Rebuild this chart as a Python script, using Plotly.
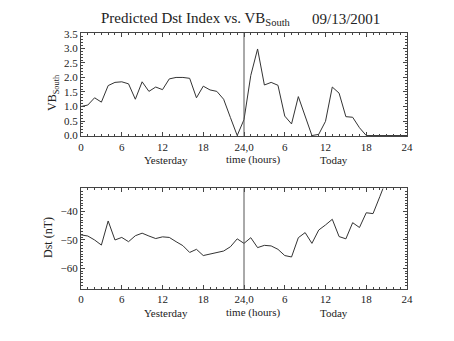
import plotly.graph_objects as go

hours = list(range(0, 49))
vb_south = [1.0, 1.05, 1.3, 1.15, 1.72, 1.83, 1.85, 1.78, 1.25, 1.85, 1.52, 1.67, 1.58, 1.95, 2.0, 2.0, 1.97,
            1.3, 1.7, 1.57, 1.52, 1.25, 0.62, 0.0, 0.55,
            2.07, 2.98, 1.74, 1.83, 1.73, 0.67, 0.4, 1.34, 0.7, 0.0, 0.04, 0.49, 1.67, 1.46, 0.65, 0.63, 0.27,
            0.0, 0.0, 0.0, 0.0, 0.0, 0.0, 0.0]
dst_hours = list(range(0, 46))
dst = [-48.2, -48.6, -50.0, -51.8, -43.3, -50.0, -49.1, -50.6, -48.5, -47.6, -48.6, -49.5, -48.9, -49.1,
       -50.6, -52.0, -54.4, -53.3, -55.5, -55.0, -54.5, -53.9, -52.4, -49.6, -51.2,
       -49.2, -52.7, -51.9, -52.1, -53.3, -55.5, -56.0, -49.2, -47.4, -51.2, -46.5, -44.7, -42.7, -48.8,
       -49.6, -43.9, -45.6, -40.4, -40.7, -34.7, -28.5]
tick_vals = [0, 6, 12, 18, 24, 30, 36, 42, 48]
tick_text = ["0", "6", "12", "18", "24,0", "6", "12", "18", "24"]
now_hour = 24

FONT = "Liberation Serif"
INK = "#222222"

fig = go.Figure()
fig.add_trace(go.Scatter(x=hours, y=vb_south, mode="lines", line=dict(color="#333333", width=1),
                         xaxis="x", yaxis="y", showlegend=False))
fig.add_trace(go.Scatter(x=dst_hours, y=dst, mode="lines", line=dict(color="#333333", width=1),
                         xaxis="x2", yaxis="y2", showlegend=False))

axis_common = dict(showline=True, linecolor="#444444", linewidth=1, mirror="ticks", ticks="inside",
                   tickcolor="#444444", showgrid=False, zeroline=False,
                   tickfont=dict(family=FONT, size=11, color=INK))
xcommon = dict(axis_common, range=[0, 48], tickvals=tick_vals, ticktext=tick_text, ticklen=4,
               minor=dict(dtick=1, ticks="inside", ticklen=2, tickcolor="#444444", tick0=0))

fig.update_layout(
    width=454, height=341,
    margin=dict(l=81, r=47, t=33, b=52),
    paper_bgcolor="white", plot_bgcolor="white",
    xaxis=dict(xcommon, domain=[0, 1], anchor="y"),
    yaxis=dict(axis_common, domain=[0.596, 1], range=[-0.03, 3.53], tickvals=[0, 0.5, 1, 1.5, 2, 2.5, 3, 3.5],
               ticktext=["0.0", "0.5", "1.0", "1.5", "2.0", "2.5", "3.0", "3.5"], ticklen=4,
               minor=dict(dtick=0.1, tick0=0, ticks="inside", ticklen=2, tickcolor="#444444"), anchor="x"),
    xaxis2=dict(xcommon, domain=[0, 1], anchor="y2"),
    yaxis2=dict(axis_common, domain=[0, 0.393], range=[-67.3, -31.8], tickvals=[-60, -50, -40],
                ticktext=["\u221260", "\u221250", "\u221240"], ticklen=4,
                minor=dict(dtick=1, tick0=0, ticks="inside", ticklen=2, tickcolor="#444444"), anchor="x2"),
)

# vertical "now" lines
for xr, yr in (("x", "y domain"), ("x2", "y2 domain")):
    fig.add_shape(type="line", xref=xr, yref=yr, x0=now_hour, x1=now_hour, y0=0, y1=1,
                  line=dict(color="#555555", width=1))

def ann(text, x, y, size=11, angle=0, xanchor="center"):
    fig.add_annotation(text=text, x=x, y=y, xref="paper", yref="paper", showarrow=False,
                       font=dict(family=FONT, size=size, color=INK), textangle=angle,
                       xanchor=xanchor, yanchor="middle")

def px(xp):
    return (xp - 81) / 326.0

def py(yp):
    return (289 - yp) / 256.0

ann("Predicted Dst Index vs. VB<sub>South</sub>", px(99), py(19), size=15, xanchor="left")
ann("09/13/2001", px(346), py(19), size=15)
for ypix in (159.5, 312.5):
    ann("Yesterday", px(165.5), py(ypix))
    ann("time (hours)", px(253), py(ypix))
    ann("Today", px(334), py(ypix))
ann("VB<sub>South</sub>", px(53), py(93), size=12, angle=-90)
ann("Dst (nT)", px(48), py(238), size=12, angle=-90)

fig.write_html("out.html")
